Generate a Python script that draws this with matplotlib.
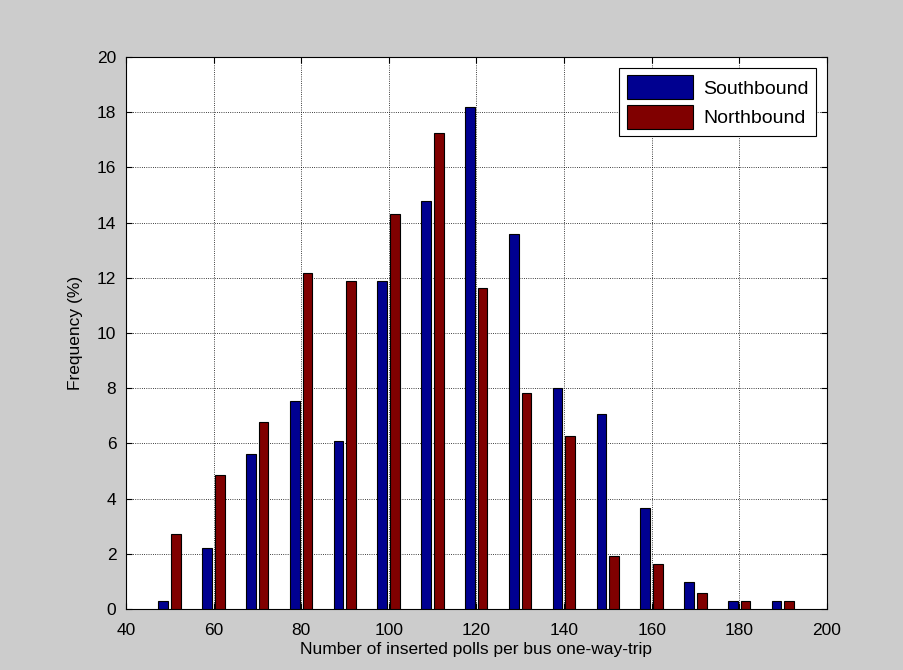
import numpy as np
import matplotlib.pyplot as plt

plt.rcParams['font.family'] = ['Liberation Sans', 'DejaVu Sans']

# bin centres and frequencies (%)
centers = [50, 60, 70, 80, 90, 100, 110, 120, 130, 140, 150, 160, 170, 180, 190]
southbound = [0.3, 2.2, 5.6, 7.55, 6.1, 11.88, 14.79, 18.19, 13.57, 8.0, 7.05, 3.67, 0.98, 0.3, 0.3]
northbound = [2.72, 4.86, 6.76, 12.16, 11.88, 14.32, 17.26, 11.63, 7.81, 6.26, 1.91, 1.63, 0.58, 0.3, 0.3]

x = np.array(centers)
w = 2.2

fig = plt.figure(figsize=(9.04, 6.70), dpi=100, facecolor='#cccccc')
ax = fig.add_axes([0.1394, 0.091, 0.7754, 0.824])

ax.bar(x - 1.5, southbound, width=w, color='#000090', edgecolor='k', linewidth=0.8,
       label='Southbound', zorder=3)
ax.bar(x + 1.4, northbound, width=w, color='#800000', edgecolor='k', linewidth=0.8,
       label='Northbound', zorder=3)

ax.set_xlim(40, 200)
ax.set_ylim(0, 20)
ax.set_xticks(np.arange(40, 201, 20))
ax.set_yticks(np.arange(0, 21, 2))
ax.tick_params(direction='in', top=True, right=True, labelsize=12.5, length=4)
ax.tick_params(axis='x', pad=10)
ax.tick_params(axis='y', pad=7)
ax.grid(True, linestyle=':', color='k', linewidth=0.6, zorder=0)
ax.set_axisbelow(True)

ax.set_xlabel('Number of inserted polls per bus one-way-trip', fontsize=12.5, labelpad=3)
ax.set_ylabel('Frequency (%)', fontsize=12.5, labelpad=10)

leg = ax.legend(loc='upper right', fontsize=14, fancybox=False, framealpha=1,
                edgecolor='k', borderaxespad=0.55, handlelength=3.4, handleheight=1.5,
                labelspacing=0.3, borderpad=0.4, handletextpad=0.5)
leg.get_frame().set_linewidth(0.8)

fig.savefig('out.png', dpi=100, facecolor=fig.get_facecolor())
